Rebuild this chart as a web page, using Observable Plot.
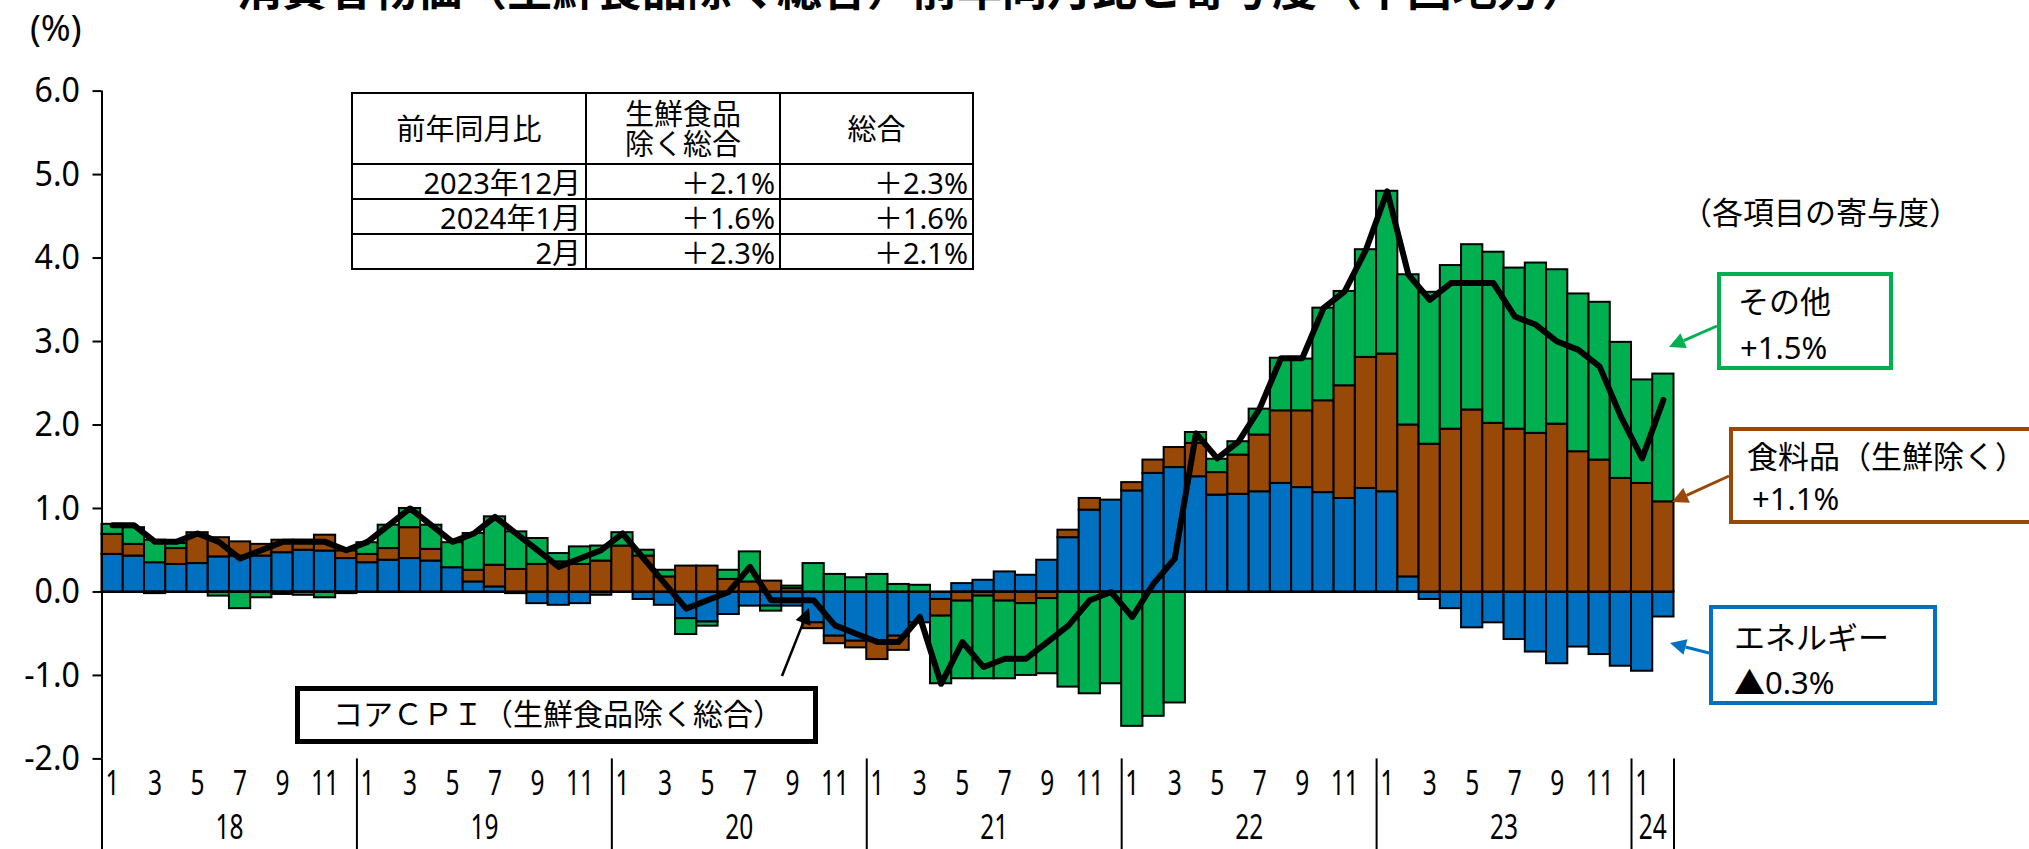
<!DOCTYPE html>
<html><head><meta charset="utf-8">
<script src="https://cdn.jsdelivr.net/npm/d3@7"></script>
<script src="https://cdn.jsdelivr.net/npm/@observablehq/plot@0.6"></script>
<style>
html,body{margin:0;padding:0;background:#fff;overflow:hidden;}
#wrap{position:relative;width:2029px;height:849px;overflow:hidden;}
#chart{position:absolute;left:0;top:0;}
.t{position:absolute;font-family:'Noto Sans','Noto Sans CJK JP',sans-serif;color:#000;white-space:nowrap;line-height:1;}
.box{position:absolute;box-sizing:border-box;background:#fff;}
.ln{position:absolute;background:#000;}
</style></head>
<body><div id="wrap"><div id="chart"></div></div>
<script>
// ---------------- data (contributions, percentage points) ----------------
const years = ["18","19","20","21","22","23","24"];
const monthLabels = ["1","3","5","7","9","11"];
const seriesNames = ["エネルギー","食料品（生鮮除く）","その他"];
const seriesColors = ["#0070C0","#984807","#00B050"];
// 2018-01 .. 2024-02 (74 months)
const energy = [
  0.45,0.43,0.35,0.33,0.34,0.42,0.43,0.43,0.47,0.50,0.49,0.40,
  0.35,0.38,0.40,0.37,0.29,0.12,0.06,-0.02,-0.14,-0.16,-0.14,-0.04,
  0.00,-0.09,-0.16,-0.32,-0.36,-0.27,-0.17,-0.17,-0.17,-0.37,-0.53,-0.59,
  -0.59,-0.53,-0.37,-0.09,0.10,0.14,0.24,0.20,0.38,0.65,0.98,1.10,
  1.21,1.42,1.49,1.38,1.16,1.17,1.20,1.30,1.25,1.19,1.12,1.24,
  1.20,0.18,-0.09,-0.20,-0.43,-0.37,-0.57,-0.72,-0.86,-0.66,-0.75,-0.89,
  -0.95,-0.30];
const food = [
  0.24,0.14,-0.02,0.19,0.37,0.23,0.17,0.14,0.15,0.12,0.19,0.09,
  0.10,0.14,0.37,0.14,0.00,0.14,0.26,0.27,0.33,0.36,0.33,0.37,
  0.55,0.43,0.18,0.31,0.31,0.15,0.12,0.13,0.04,-0.07,-0.09,-0.08,
  -0.22,-0.17,0.00,-0.20,-0.11,-0.05,-0.11,-0.14,-0.08,0.09,0.14,0.00,
  0.10,0.16,0.24,0.40,0.27,0.47,0.68,0.87,0.92,1.10,1.35,1.57,
  1.65,1.82,1.77,1.95,2.18,2.02,1.95,1.90,2.01,1.68,1.58,1.36,
  1.30,1.08];
const other = [
  0.12,0.20,0.27,0.06,0.00,-0.05,-0.20,-0.07,-0.03,-0.04,-0.07,-0.02,
  0.14,0.28,0.23,0.29,0.30,0.44,0.58,0.45,0.31,0.10,0.21,0.18,
  0.16,0.07,0.08,-0.19,-0.05,0.11,0.36,-0.06,0.03,0.34,0.21,0.17,
  0.21,0.09,0.08,-0.81,-0.93,-0.99,-0.93,-0.86,-0.90,-1.14,-1.22,-1.10,
  -1.61,-1.49,-1.33,0.13,0.16,0.16,0.31,0.63,0.62,1.11,1.13,1.29,
  1.95,1.80,1.82,1.96,1.98,2.05,1.93,2.04,1.85,1.89,1.89,1.63,
  1.24,1.53];
// core CPI (excl. fresh food), y/y %
const core = [
  0.8,0.8,0.6,0.6,0.7,0.6,0.4,0.5,0.6,0.6,0.6,0.5,
  0.6,0.8,1.0,0.8,0.6,0.7,0.9,0.7,0.5,0.3,0.4,0.5,
  0.7,0.4,0.1,-0.2,-0.1,0.0,0.3,-0.1,-0.1,-0.1,-0.4,-0.5,
  -0.6,-0.6,-0.3,-1.1,-0.6,-0.9,-0.8,-0.8,-0.6,-0.4,-0.1,0.0,
  -0.3,0.1,0.4,1.9,1.6,1.8,2.2,2.8,2.8,3.4,3.6,4.1,
  4.8,3.8,3.5,3.7,3.7,3.7,3.3,3.2,3.0,2.9,2.7,2.1,
  1.6,2.3];
const yTicks = [-2,-1,0,1,2,3,4,5,6];
const tableHeader = ["前年同月比","生鮮食品<br>除く総合","総合"];
const tableRows = [
  ["2023年12月","＋2.1%","＋2.3%"],
  ["2024年1月","＋1.6%","＋1.6%"],
  ["2月","＋2.3%","＋2.1%"]
];

// ---------------- build ----------------
const FONT = "'Noto Sans','Noto Sans CJK JP',sans-serif";
const n = core.length;
const seriesArrays = [energy, food, other];
const rows = [];
for (let i = 0; i < n; i++) {
  seriesArrays.forEach((arr, k) => { if (arr[i] !== 0) rows.push({i, cat: seriesNames[k], v: arr[i]}); });
}
const linePts = core.map((v, i) => ({x: i + 0.5, v}));

const monthTicks = [], monthText = {};
years.forEach((yr, yi) => monthLabels.forEach(m => {
  const idx = yi * 12 + (+m - 1);
  if (idx < n) { monthTicks.push(idx + 0.5); monthText[idx + 0.5] = m; }
}));
const yearTicks = [], yearText = {};
years.forEach((yr, yi) => {
  const start = yi * 12, end = Math.min(n, start + 12);
  const mid = (start + end) / 2; yearTicks.push(mid); yearText[mid] = yr;
});
const bounds = years.map((yr, yi) => yi * 12).concat([n]);

const W = 2029, H = 849;
const chart = Plot.plot({
  width: W, height: H,
  marginLeft: 101.5, marginRight: 355.5, marginTop: 90.6, marginBottom: 90.6,
  x: {type: "linear", domain: [0, n]},
  y: {domain: [-2, 6]},
  color: {domain: seriesNames, range: seriesColors},
  style: {fontFamily: FONT, background: "transparent", overflow: "visible"},
  marks: [
    Plot.rectY(rows, {x1: "i", x2: d => d.i + 1, y: "v", fill: "cat", stroke: "#000", strokeWidth: 2}),
    Plot.ruleY([0], {stroke: "#000", strokeWidth: 2}),
    Plot.line(linePts, {x: "x", y: "v", stroke: "#000", strokeWidth: 6, strokeLinejoin: "round"}),
    Plot.ruleX([0], {stroke: "#000", strokeWidth: 2}),
    Plot.axisY({ticks: yTicks, tickFormat: d => d.toFixed(1), tickSize: 9, tickPadding: 13, fontSize: 35, strokeWidth: 2, label: null}),
    Plot.axisX({ticks: monthTicks, tickFormat: d => monthText[d], tickSize: 0, tickPadding: 11, fontSize: 35, label: null}),
    Plot.axisX({ticks: yearTicks, tickFormat: d => yearText[d], tickSize: 0, tickPadding: 55, fontSize: 35, label: null}),
    Plot.axisX({ticks: bounds, tickFormat: () => "", tickSize: 92, strokeWidth: 2, label: null})
  ]
});
document.getElementById("chart").appendChild(chart);
// condensed look of the reference's numerals (scale each label about its own anchor)
function condense(sel, k) {
  d3.select(chart).selectAll(sel).each(function () {
    const xs = this.getAttribute("x");
    const x = xs == null ? 0 : parseFloat(xs);
    if (!isFinite(x)) return;
    const t = this.getAttribute("transform") || "";
    if (xs != null) this.removeAttribute("x");
    this.setAttribute("transform", `${t} translate(${x},0) scale(${k},1)`);
  });
}
condense('g[aria-label="x-axis tick label"] text', 0.7);
condense('g[aria-label="y-axis tick label"] text', 0.92);

const wrap = document.getElementById("wrap");
function addText(txt, left, top, size, extra) {
  const d = document.createElement("div");
  d.className = "t"; d.innerHTML = txt;
  d.style.left = left + "px"; d.style.top = top + "px"; d.style.fontSize = size + "px";
  if (extra) Object.assign(d.style, extra);
  wrap.appendChild(d); return d;
}
function addBox(left, top, w, h, color, bw) {
  const d = document.createElement("div");
  d.className = "box";
  Object.assign(d.style, {left: left + "px", top: top + "px", width: w + "px", height: h + "px", border: bw + "px solid " + color});
  wrap.appendChild(d); return d;
}

// title (cut off at the top in the reference)
addText("消費者物価（生鮮食品除く総合）前年同月比と寄与度（中国地方）", 237, -34, 45, {fontWeight: "bold"});
addText("(%)", 30, 10, 36);

// table
const colX = [352, 586, 780, 973], rowY = [93, 164, 199, 234, 269];
function cell(html, c, r, align) {
  const midY = (rowY[r] + rowY[r + 1]) / 2;
  const d = document.createElement("div");
  d.className = "t"; d.innerHTML = html;
  d.style.fontSize = "29px";
  d.style.top = midY + "px";
  if (align === "right") {
    d.style.right = (W - colX[c + 1] + 5) + "px";
    d.style.transform = "translateY(-50%)";
    d.style.textAlign = "right";
  } else {
    d.style.left = ((colX[c] + colX[c + 1]) / 2) + "px";
    d.style.transform = "translate(-50%,-50%)";
    d.style.textAlign = "center";
    d.style.lineHeight = "1.05";
  }
  wrap.appendChild(d);
}
tableHeader.forEach((h, c) => cell(h, c, 0, "center"));
tableRows.forEach((r, ri) => r.forEach((v, c) => cell(v, c, ri + 1, "right")));
colX.forEach(x => { const l = document.createElement("div"); l.className = "ln";
  Object.assign(l.style, {left: (x - 1.25) + "px", top: (rowY[0] - 1.25) + "px", width: "2.5px", height: (rowY[4] - rowY[0] + 2.5) + "px"}); wrap.appendChild(l); });
rowY.forEach(y => { const l = document.createElement("div"); l.className = "ln";
  Object.assign(l.style, {left: (colX[0] - 1.25) + "px", top: (y - 1.25) + "px", height: "2.5px", width: (colX[3] - colX[0] + 2.5) + "px"}); wrap.appendChild(l); });

// annotation boxes
addText("（各項目の寄与度）", 1681, 197, 31);
addBox(1717, 272, 176, 98, "#00B050", 4);
addText("その他", 1738, 286, 31);
addText("+1.5%", 1740, 332, 31);
addBox(1729, 427, 340, 97, "#984807", 4);
addText("食料品（生鮮除く）", 1747, 441, 31);
addText("+1.1%", 1752, 483, 31);
addBox(1709, 605, 228, 100, "#0070C0", 4);
addText("エネルギー", 1734, 622, 31);
addText("▲0.3%", 1734, 667, 31);
addBox(295, 686, 523, 58, "#000", 5);
addText("コアＣＰＩ（生鮮食品除く総合）", 333, 699, 30);

// arrows overlay
const ov = d3.select(wrap).append("svg").attr("width", W).attr("height", H)
  .style("position", "absolute").style("left", 0).style("top", 0).style("pointer-events", "none");
function arrow(x1, y1, x2, y2, color, w) {
  const a = Math.atan2(y2 - y1, x2 - x1), L = 16, hw = 8;
  const bx = x2 - L * Math.cos(a), by = y2 - L * Math.sin(a);
  ov.append("line").attr("x1", x1).attr("y1", y1).attr("x2", bx).attr("y2", by).attr("stroke", color).attr("stroke-width", w);
  ov.append("polygon").attr("fill", color).attr("points", [
    [x2, y2], [bx + hw * Math.sin(a), by - hw * Math.cos(a)], [bx - hw * Math.sin(a), by + hw * Math.cos(a)]
  ].map(p => p.join(",")).join(" "));
}
arrow(1717, 326, 1669, 347, "#00B050", 3);
arrow(1729, 476, 1672, 502, "#984807", 3);
arrow(1709, 653, 1670, 643, "#0070C0", 3);
arrow(782, 676, 809, 608, "#000", 2.5);
</script>
</body></html>
